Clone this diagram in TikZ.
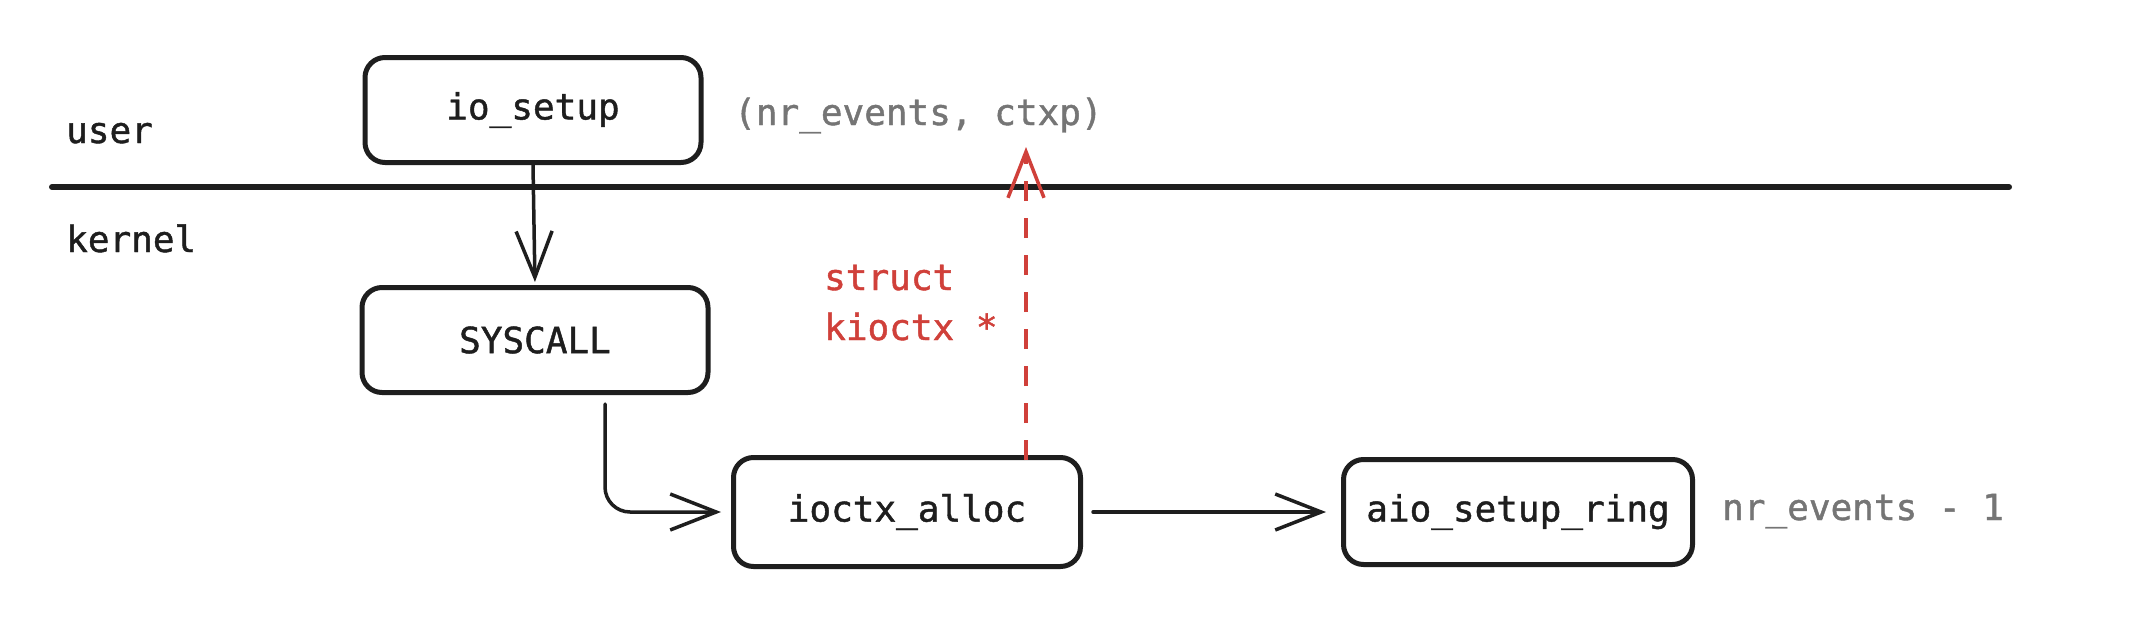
\documentclass[tikz,border=0pt]{standalone}
\usepackage{fontspec}
\setmonofont[FakeBold=1.2]{DejaVu Sans Mono}
\usetikzlibrary{arrows.meta}
\definecolor{ink}{HTML}{1E1E1E}
\definecolor{muted}{HTML}{757575}
\definecolor{redink}{HTML}{D0403A}
\tikzset{
  fn/.style={draw=ink, line width=5pt, rounded corners=20pt, text=ink,
    font=\ttfamily\fontsize{36}{42}\selectfont, inner sep=0pt},
  lbl/.style={font=\ttfamily\fontsize{36}{42}\selectfont, inner sep=0pt, anchor=base west},
  conn/.style={draw=ink, line width=3.5pt, line cap=round,
    -{Straight Barb[length=46pt,width=36pt,line width=3.5pt]}},
  retconn/.style={draw=redink, line width=3.5pt, dash pattern=on 20pt off 17pt,
    -{Straight Barb[length=46pt,width=36pt,line width=3.5pt]}}
}
\begin{document}
\begin{tikzpicture}[x=1pt,y=-1pt]
\useasboundingbox (0,0) rectangle (2150,624);
\fill[white] (0,0) rectangle (2150,624);

% divider
\coordinate (divL) at (52,187);
\coordinate (divR) at (2009,187);
\draw[ink, line width=6pt, line cap=round] (divL) -- (divR);

% layer labels
\node[lbl, text=ink] (user) at (66,143) {user};
\node[lbl, text=ink] (kernel) at (66,252) {kernel};

% function boxes
\node[fn, minimum width=336pt, minimum height=105pt] (io) at (533,110) {io\_setup};
\node[fn, minimum width=346pt, minimum height=105pt] (sys) at (535,340) {SYSCALL};
\node[fn, minimum width=347pt, minimum height=109pt] (ioctx) at (907,512) {ioctx\_alloc};
\node[fn, minimum width=349pt, minimum height=105pt] (aio) at (1518,512) {aio\_setup\_ring};

% annotations
\node[lbl, text=muted] (args) at (734,125) {(nr\_events, ctxp)};
\node[lbl, text=muted] (nrev) at (1722,520) {nr\_events - 1};
\node[lbl, text=redink] (st1) at (824,290) {struct};
\node[lbl, text=redink] (st2) at (824,340) {kioctx *};

% connectors
\draw[conn, shorten >=3pt] (io.south) -- (sys.north);
\draw[conn, rounded corners=25pt, shorten <=9pt, shorten >=10pt]
  ([xshift=70pt]sys.south) |- (ioctx.west);
\draw[conn, shorten <=10pt, shorten >=15pt] (ioctx.east) -- (aio.west);
\coordinate (rtip) at (1026,147);
\draw[retconn, shorten <=-5pt] (ioctx.north -| rtip) -- (rtip);
\end{tikzpicture}
\end{document}
